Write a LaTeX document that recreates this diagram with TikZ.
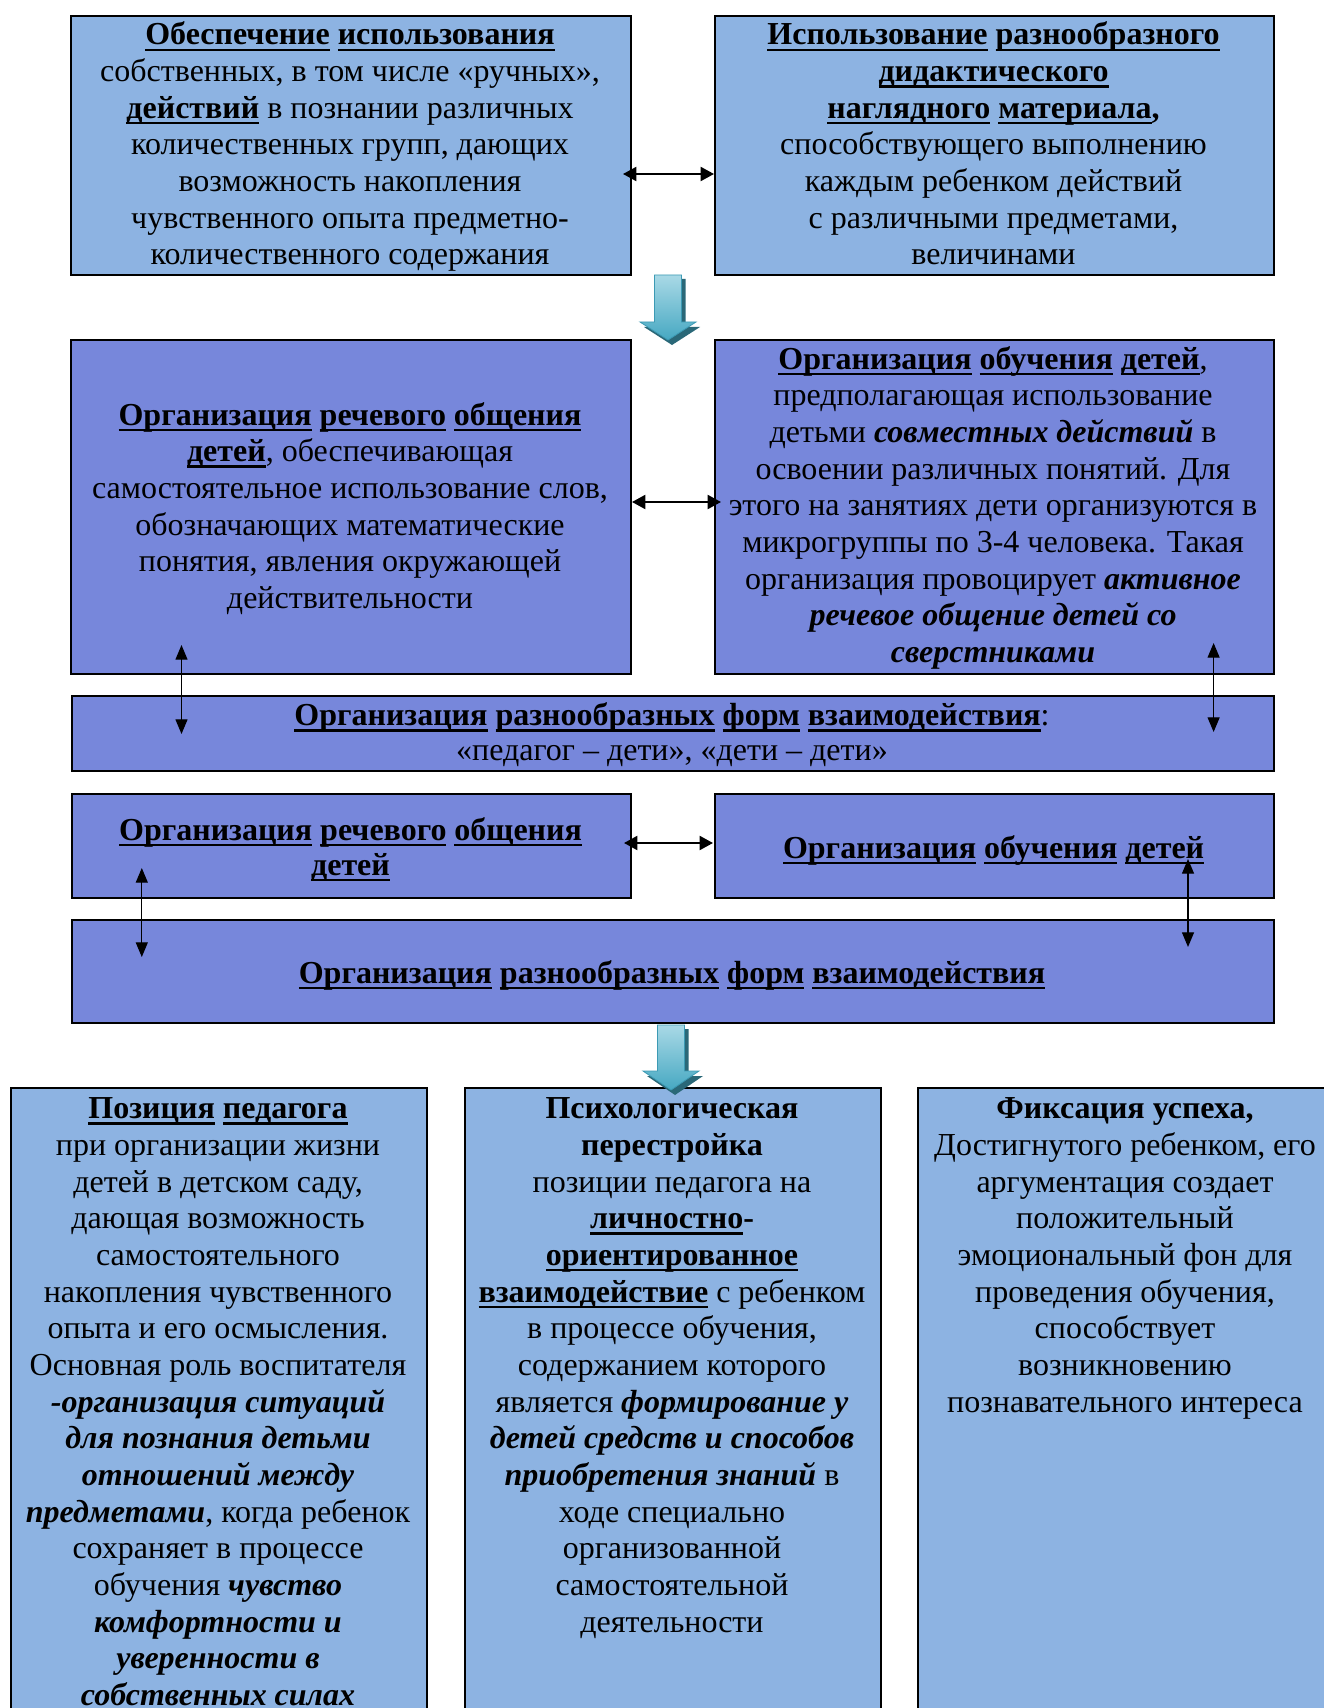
\documentclass[tikz,border=0pt]{standalone}
\usepackage{fontspec}
\setmainfont{Liberation Serif}
\usetikzlibrary{arrows.meta,calc}
\definecolor{lb}{HTML}{8DB3E2}
\definecolor{pw}{HTML}{7787DB}
\definecolor{tealA}{HTML}{A9D9E6}
\definecolor{tealB}{HTML}{46A8C2}
\definecolor{tealC}{HTML}{3C9AB4}
\definecolor{tealS}{HTML}{2A6878}
\newcommand\ulb[1]{\setbox0\hbox{\bfseries #1}\rlap{\raisebox{-4.5pt}{\rule{\wd0}{1.8pt}}}\box0\relax}
\newcommand\bbi[1]{\textbf{\textit{#1}}}
\newcommand\tealdown[4]{%
  \fill[tealS] ({#1-13.5+4},{#2+4}) -- ({#1+13.5+4},{#2+4}) -- ({#1+13.5+4},{#3+5}) -- ({#1+28+4},{#3+5}) -- ({#1+4},{#4+5}) -- ({#1-28+4},{#3+5}) -- ({#1-13.5+4},{#3+5}) -- cycle;
  \shade[top color=tealA, bottom color=tealB, draw=tealC, line width=0.6pt] ({#1-13.5},{#2}) -- ({#1+13.5},{#2}) -- ({#1+13.5},{#3}) -- ({#1+28},{#3}) -- ({#1},{#4}) -- ({#1-28},{#3}) -- ({#1-13.5},{#3}) -- cycle;}
\tikzset{
  bx/.style 2 args={draw=black, line width=1.5pt, rectangle, inner sep=0pt, anchor=north west,
     minimum width=#1*0.75pt, minimum height=#2*0.75pt},
  txt/.style={anchor=base, inner sep=0pt, font=\fontsize{24}{27.5}\selectfont},
  dblh/.style={{Triangle[length=10pt,width=10.5pt]}-{Triangle[length=10pt,width=10.5pt]}, line width=1.5pt},
  dblv/.style={{Triangle[length=11pt,width=9pt]}-{Triangle[length=11pt,width=9pt]}, line width=0.9pt}
}
\begin{document}
\begin{tikzpicture}[x=0.75pt,y=-0.75pt]
\setlength\tabcolsep{0pt}
\useasboundingbox[fill=white] (0,0) rectangle (1323,1708);
% boxes
\node[bx={560}{259}, fill=lb] (tl) at (70,15) {};
\node[bx={559}{259}, fill=lb] (tr) at (714,15) {};
\node[bx={560}{334}, fill=pw] (ml) at (70,339) {};
\node[bx={559}{334}, fill=pw] (mr) at (714,339) {};
\node[bx={1202}{75}, fill=pw] (w1) at (71,695) {};
\node[bx={559}{104}, fill=pw] (l4) at (71,793) {};
\node[bx={559}{104}, fill=pw] (r4) at (714,793) {};
\node[bx={1202}{103}, fill=pw] (w2) at (71,919) {};
\node[bx={416}{640}, fill=lb] (b1) at (10,1087) {};
\node[bx={416}{640}, fill=lb] (b2) at (464,1087) {};
\node[bx={416}{640}, fill=lb] (b3) at (917,1087) {};
% texts
\node[txt] (tlT) at (350,45) {\begin{tabular}[t]{c}
\ulb{Обеспечение} \ulb{использования}\\
собственных, в том числе «ручных»,\\
\ulb{действий} в познании различных\\
количественных групп, дающих\\
возможность накопления\\
чувственного опыта предметно-\\
количественного содержания
\end{tabular}};
\node[txt] (trT) at (993.5,45) {\begin{tabular}[t]{c}
\ulb{Использование} \ulb{разнообразного}\\
\ulb{дидактического}\\
\ulb{наглядного} \ulb{материала}\textbf{,}\\
способствующего выполнению\\
каждым ребенком действий\\
с различными предметами,\\
величинами
\end{tabular}};
\node[txt] (mlT) at (350,425) {\begin{tabular}[t]{c}
\ulb{Организация} \ulb{речевого} \ulb{общения}\\
\ulb{детей}, обеспечивающая\\
самостоятельное использование слов,\\
обозначающих математические\\
понятия, явления окружающей\\
действительности
\end{tabular}};
\node[txt] (mrT) at (993,369) {\begin{tabular}[t]{c}
\ulb{Организация} \ulb{обучения} \ulb{детей},\\
предполагающая использование\\
детьми \bbi{совместных действий} в\\
освоении различных понятий. Для\\
этого на занятиях дети организуются в\\
микрогруппы по 3-4 человека. Такая\\
организация провоцирует \bbi{активное}\\
\bbi{речевое общение детей со}\\
\bbi{сверстниками}
\end{tabular}};
\node[txt] (w1T) at (672,725.7) {\begin{tabular}[t]{c}
\ulb{Организация} \ulb{разнообразных} \ulb{форм} \ulb{взаимодействия}:\\[-1.25pt]
«педагог – дети», «дети – дети»
\end{tabular}};
\node[txt] (l4T) at (350.5,840) {\begin{tabular}[t]{c}
\ulb{Организация} \ulb{речевого} \ulb{общения}\\[-1.25pt]
\ulb{детей}
\end{tabular}};
\node[txt] (r4T) at (993.6,858.3) {\ulb{Организация} \ulb{обучения} \ulb{детей}};
\node[txt] (w2T) at (672,983) {\ulb{Организация} \ulb{разнообразных} \ulb{форм} \ulb{взаимодействия}};
\node[txt] (b1T) at (218,1118.8) {\begin{tabular}[t]{c}
\ulb{Позиция} \ulb{педагога}\\
при организации жизни\\
детей в детском саду,\\
дающая возможность\\
самостоятельного\\
накопления чувственного\\
опыта и его осмысления.\\
Основная роль воспитателя\\
\bbi{-организация ситуаций}\\
\bbi{для познания детьми}\\
\bbi{отношений между}\\
\bbi{предметами}, когда ребенок\\
сохраняет в процессе\\
обучения \bbi{чувство}\\
\bbi{комфортности и}\\
\bbi{уверенности в}\\
\bbi{собственных силах}
\end{tabular}};
\node[txt] (b2T) at (672,1118.8) {\begin{tabular}[t]{c}
\textbf{Психологическая}\\
\textbf{перестройка}\\
позиции педагога на\\
\ulb{личностно}\textbf{-}\\
\ulb{ориентированное}\\
\ulb{взаимодействие} с ребенком\\
в процессе обучения,\\
содержанием которого\\
является \bbi{формирование у}\\
\bbi{детей средств и способов}\\
\bbi{приобретения знаний} в\\
ходе специально\\
организованной\\
самостоятельной\\
деятельности
\end{tabular}};
\node[txt] (b3T) at (1125,1118.8) {\begin{tabular}[t]{c}
\textbf{Фиксация успеха,}\\
Достигнутого ребенком, его\\
аргументация создает\\
положительный\\
эмоциональный фон для\\
проведения обучения,\\
способствует\\
возникновению\\
познавательного интереса
\end{tabular}};
% connector end points
\coordinate (h1a) at (623,174);  \coordinate (h1b) at (714,174);
\coordinate (h2a) at (632,502);  \coordinate (h2b) at (721,502);
\coordinate (h4a) at (624,843);  \coordinate (h4b) at (713,843);
\coordinate (v1a) at (181.5,645); \coordinate (v1b) at (181.5,734);
\coordinate (v2a) at (1213.6,643); \coordinate (v2b) at (1213.6,732);
\coordinate (v3a) at (141.8,868); \coordinate (v3b) at (141.8,957);
\coordinate (v4a) at (1188,859); \coordinate (v4b) at (1188,947);
\draw[dblh] (h1a) -- (h1b);
\draw[dblh] (h2a) -- (h2b);
\draw[dblh] (h4a) -- (h4b);
\draw[dblv] (v1a) -- (v1b);
\draw[dblv] (v2a) -- (v2b);
\draw[dblv] (v3a) -- (v3b);
\draw[dblv] (v4a) -- (v4b);
% big teal arrows
\tealdown{668}{275}{322}{340}
\tealdown{671}{1025}{1071}{1090}
\end{tikzpicture}
\end{document}
